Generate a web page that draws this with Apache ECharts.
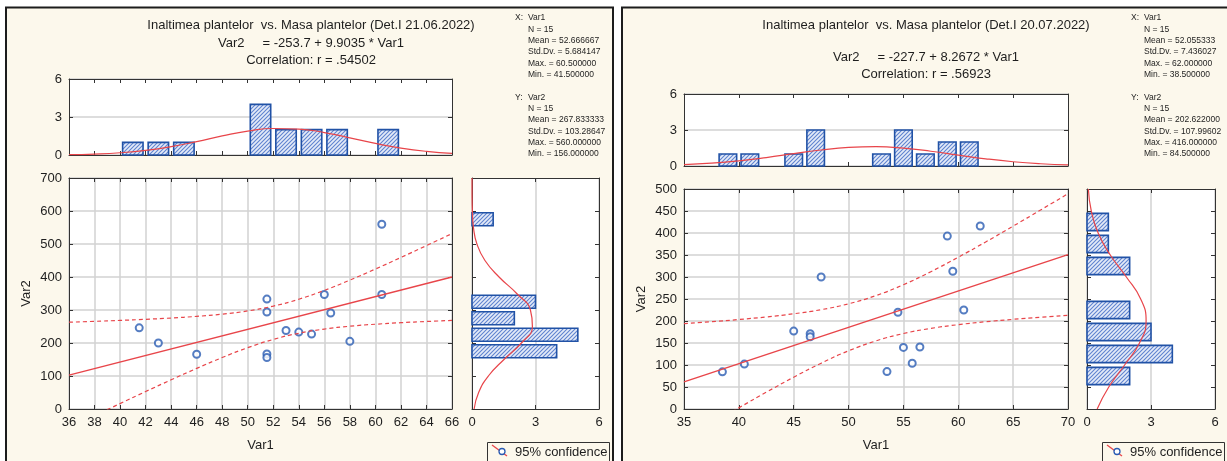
<!DOCTYPE html>
<html><head><meta charset="utf-8">
<script src="https://cdn.jsdelivr.net/npm/echarts@6/dist/echarts.min.js"></script>
<style>html,body{margin:0;padding:0;background:#fff;}#c{width:1227px;height:461px;}</style>
</head><body><div id="c"></div>
<script>
// ===== Panel A (Det.I 21.06.2022) =====
const titleA = ['Inaltimea plantelor  vs. Masa plantelor (Det.I 21.06.2022)', 'Var2     = -253.7 + 9.9035 * Var1', 'Correlation: r = .54502'];
const statsXA = ['N = 15', 'Mean = 52.666667', 'Std.Dv. = 5.684147', 'Max. = 60.500000', 'Min. = 41.500000'];
const statsYA = ['N = 15', 'Mean = 267.833333', 'Std.Dv. = 103.28647', 'Max. = 560.000000', 'Min. = 156.000000'];
const pointsA = [[41.5,246],[43,200],[46,166],[51.5,333],[51.5,294],[51.5,167],[51.5,156],[53,238],[54,233],[55,227],[56,347],[56.5,291],[58,205],[60.5,560],[60.5,347]];
const regA = [[36,102.8],[66,399.9]];
const bandXA = [36,38,40,42,44,46,48,50,52,54,56,58,60,62,64,66];
const bandUpA = [263.0,265.6,268.5,271.8,275.7,280.7,287.4,297.2,311.8,332.7,359.5,390.6,424.1,459.2,495.1,531.5];
const bandLoA = [-57.3,-20.3,16.4,52.8,88.4,123.0,155.9,185.8,210.8,229.5,242.3,250.8,256.9,261.5,265.2,268.3];
const histXCentersA = [41,43,45,51,53,55,57,61];
const histXCountsA = [1,1,1,4,2,2,2,2];
const histYCentersA = [175,225,275,325,575];
const histYCountsA = [4,5,2,3,1];
const normXvalA = [36,38,40,42,44,46,48,50,52,54,56,58,60,62,64,66];
const normXcntA = [0.029,0.075,0.176,0.362,0.658,1.058,1.503,1.886,2.091,2.048,1.773,1.356,0.916,0.547,0.289,0.135];
const normYvalA = [0,50,100,150,200,250,300,350,400,450,500,550,600,650,700];
const normYcntA = [0.100,0.313,0.774,1.511,2.335,2.854,2.760,2.111,1.278,0.612,0.232,0.069,0.017,0.003,0.001];
const xTicksA = {min:36, max:66, interval:2};
const yTicksA = {min:0, max:700, interval:100};

// ===== Panel B (Det.I 20.07.2022) =====
const titleB = ['Inaltimea plantelor  vs. Masa plantelor (Det.I 20.07.2022)', 'Var2     = -227.7 + 8.2672 * Var1', 'Correlation: r = .56923'];
const statsXB = ['N = 15', 'Mean = 52.055333', 'Std.Dv. = 7.436027', 'Max. = 62.000000', 'Min. = 38.500000'];
const statsYB = ['N = 15', 'Mean = 202.622000', 'Std.Dv. = 107.99602', 'Max. = 416.000000', 'Min. = 84.500000'];
const pointsB = [[38.5,84.5],[40.5,102],[45,177],[46.5,171],[46.5,164],[47.5,300],[53.5,85],[54.5,220],[55,140],[55.8,104],[56.5,141],[59,393],[59.5,313],[60.5,225],[62,416]];
const regB = [[35,61.7],[70,351.0]];
const bandXB = [35,37.5,40,42.5,45,47.5,50,52.5,55,57.5,60,62.5,65,67.5,70];
const bandUpB = [194.0,198.4,203.4,209.2,216.4,225.8,239.1,257.8,282.5,312.1,345.0,379.7,415.6,452.2,489.3];
const bandLoB = [-70.7,-33.8,2.6,38.1,72.3,104.1,132.2,154.8,171.5,183.2,191.7,198.3,203.8,208.5,212.7];
const histXCentersB = [39,41,45,47,53,55,57,59,61];
const histXCountsB = [1,1,1,3,1,3,1,2,2];
const histYCentersB = [75,125,175,225,325,375,425];
const histYCountsB = [2,4,3,2,2,1,1];
const normXvalB = [35,37.5,40,42.5,45,47.5,50,52.5,55,57.5,60,62.5,65,67.5,70];
const normXcntB = [0.116,0.237,0.433,0.705,1.026,1.334,1.549,1.607,1.488,1.231,0.910,0.600,0.354,0.186,0.088];
const normYvalB = [0,50,100,150,200,250,300,350,400,450,500];
const normYcntB = [0.477,1.021,1.764,2.460,2.770,2.516,1.845,1.092,0.522,0.201,0.063];
const xTicksB = {min:35, max:70, interval:5};
const yTicksB = {min:0, max:500, interval:50};

const countTicks = {min:0, max:6, interval:3};
const legendText = '95% confidence';

// ===== styling =====
const FONT = '"Liberation Sans", Arial, sans-serif';
const CREAM = '#fcf8ec';
const RED = '#e8454a';
const BLUE = '#2a5cb3';
const BARBLUE = '#2152a6';
const TXT = '#1e1e1e';

function makeHatch(){
  const c = document.createElement('canvas'); c.width = 4; c.height = 4;
  const g = c.getContext('2d');
  g.fillStyle = '#e4ebf8'; g.fillRect(0,0,4,4);
  g.strokeStyle = '#5f83cf'; g.lineWidth = 1.1;
  g.beginPath();
  g.moveTo(0,4); g.lineTo(4,0);
  g.moveTo(-2,2); g.lineTo(2,-2);
  g.moveTo(2,6); g.lineTo(6,2);
  g.stroke();
  return c;
}
const hatch = {image: makeHatch(), repeat: 'repeat'};

const grids = [], xAxes = [], yAxes = [], series = [], graphics = [];
const lab = {fontFamily: FONT, fontSize: 13, color: TXT};
const tick = {show:true, inside:true, length:4, lineStyle:{color:'#333', width:1}};
const aline = {show:true, onZero:false, lineStyle:{color:'#333', width:1}};
const split = {show:true, lineStyle:{color:'#d2d2d2', width:1.5}};

function addGrid(rect, xc, yc){
  const gi = grids.length;
  grids.push({left:rect[0], top:rect[1], width:rect[2], height:rect[3], show:true, backgroundColor:'#fff', borderWidth:0, containLabel:false});
  const xi = xAxes.length, yi = yAxes.length;
  xAxes.push({type:'value', gridIndex:gi, position:'bottom', min:xc.min, max:xc.max, interval:xc.interval,
    axisLine:aline, axisTick:tick, axisLabel:{show:!!xc.labels, margin:7, ...lab},
    splitLine: xc.split ? split : {show:false},
    name: xc.name || '', nameLocation:'middle', nameGap: 30, nameTextStyle:{...lab}});
  xAxes.push({type:'value', gridIndex:gi, position:'top', min:xc.min, max:xc.max, interval:xc.interval,
    axisLine:aline, axisTick:tick, axisLabel:{show:false}, splitLine:{show:false}});
  yAxes.push({type:'value', gridIndex:gi, position:'left', min:yc.min, max:yc.max, interval:yc.interval,
    axisLine:aline, axisTick:tick, axisLabel:{show:!!yc.labels, margin:7, ...lab},
    splitLine: yc.split ? split : {show:false},
    name: yc.name || '', nameLocation:'middle', nameGap: 36, nameTextStyle:{...lab}});
  yAxes.push({type:'value', gridIndex:gi, position:'right', min:yc.min, max:yc.max, interval:yc.interval,
    axisLine:aline, axisTick:tick, axisLabel:{show:false}, splitLine:{show:false}});
  return {x:xi, y:yi};
}

function vBars(binW, frac){
  return function(params, api){
    const c = api.value(0), n = api.value(1);
    const p0 = api.coord([c - binW*frac/2, n]);
    const p1 = api.coord([c + binW*frac/2, 0]);
    return {type:'rect', shape:{x:p0[0], y:p0[1], width:p1[0]-p0[0], height:p1[1]-p0[1]},
      style:{fill:hatch, stroke:BARBLUE, lineWidth:1.6}};
  };
}
function hBars(binW, frac){
  return function(params, api){
    const c = api.value(0), n = api.value(1);
    const p0 = api.coord([0, c + binW*frac/2]);
    const p1 = api.coord([n, c - binW*frac/2]);
    return {type:'rect', shape:{x:p0[0], y:p0[1], width:p1[0]-p0[0], height:p1[1]-p0[1]},
      style:{fill:hatch, stroke:BARBLUE, lineWidth:1.6}};
  };
}
const zip = (a,b) => a.map((v,i)=>[v,b[i]]);

function buildPanel(P){
  graphics.push({type:'rect', shape:{x:P.frame[0], y:P.frame[1], width:P.frame[2], height:P.frame[3]},
    style:{fill:CREAM, stroke:'#1c1c1c', lineWidth:2}, z:-10});
  P.title.forEach((t,i)=>graphics.push({type:'text', x:P.titleX, y:P.titleY[i],
    style:{text:t, font:'13px '+FONT, fill:TXT, textAlign:'center', textVerticalAlign:'middle'}}));
  const st = (txt, x, y) => graphics.push({type:'text', x:x, y:y, style:{text:txt, font:'8.5px '+FONT, fill:TXT, textAlign:'left', textVerticalAlign:'middle'}});
  st('X:', P.statX0, 17.5); st('Var1', P.statX1, 17.5);
  P.statsX.forEach((t,i)=>st(t, P.statX1, 29.5 + i*11.3));
  st('Y:', P.statX0, 97.5); st('Var2', P.statX1, 97.5);
  P.statsY.forEach((t,i)=>st(t, P.statX1, 108.8 + i*11.3));
  const L = P.legend;
  graphics.push({type:'rect', shape:{x:L[0]+0.5, y:442.5, width:122, height:26}, style:{fill:'none', stroke:'#333', lineWidth:1}});
  graphics.push({type:'line', shape:{x1:L[0]+5, y1:445, x2:L[0]+20, y2:456}, style:{stroke:RED, lineWidth:1.3}});
  graphics.push({type:'circle', shape:{cx:L[0]+15, cy:451.5, r:3}, style:{fill:'#fff', stroke:BLUE, lineWidth:1.3}});
  graphics.push({type:'text', x:L[0]+28, y:452, style:{text:legendText, font:'13px '+FONT, fill:TXT, textVerticalAlign:'middle'}});

  const sc = addGrid(P.scatter, {...P.xT, labels:true, split:true, name:'Var1'}, {...P.yT, labels:true, split:true, name:'Var2'});
  const th = addGrid(P.top, {...P.xT}, {...countTicks, labels:true, split:true});
  const rh = addGrid(P.right, {...countTicks, labels:true, split:true}, {...P.yT});

  const lineBase = {type:'line', showSymbol:false, symbol:'none', clip:true, animation:false, silent:true};
  series.push({...lineBase, xAxisIndex:sc.x, yAxisIndex:sc.y, data:zip(P.bandX, P.bandUp), smooth:true,
    lineStyle:{color:RED, width:1.2, type:[4,3]}});
  series.push({...lineBase, xAxisIndex:sc.x, yAxisIndex:sc.y, data:zip(P.bandX, P.bandLo), smooth:true,
    lineStyle:{color:RED, width:1.2, type:[4,3]}});
  series.push({...lineBase, xAxisIndex:sc.x, yAxisIndex:sc.y, data:P.reg, lineStyle:{color:RED, width:1.4}});
  series.push({type:'scatter', xAxisIndex:sc.x, yAxisIndex:sc.y, data:P.points, symbol:'emptyCircle', symbolSize:7,
    itemStyle:{color:BLUE, borderWidth:1.4}, animation:false, silent:true});

  series.push({type:'custom', xAxisIndex:th.x, yAxisIndex:th.y, renderItem:vBars(2, 0.8),
    data:zip(P.hxC, P.hxN), animation:false, silent:true});
  series.push({...lineBase, xAxisIndex:th.x, yAxisIndex:th.y, data:zip(P.nxV, P.nxC), smooth:true,
    lineStyle:{color:RED, width:1.2}, z:3});

  series.push({type:'custom', xAxisIndex:rh.x, yAxisIndex:rh.y, renderItem:hBars(50, 0.78),
    data:zip(P.hyC, P.hyN), animation:false, silent:true});
  series.push({...lineBase, xAxisIndex:rh.x, yAxisIndex:rh.y, data:zip(P.nyC, P.nyV), smooth:true,
    lineStyle:{color:RED, width:1.2}, z:3});
}

buildPanel({frame:[6,7.5,607,470], title:titleA, titleX:311, titleY:[25,43.3,60],
  statsX:statsXA, statsY:statsYA, statX0:515, statX1:528, legend:[487],
  scatter:[69,178,383,231], top:[69,79,383,76], right:[472,178,127,231],
  xT:xTicksA, yT:yTicksA, bandX:bandXA, bandUp:bandUpA, bandLo:bandLoA, reg:regA, points:pointsA,
  hxC:histXCentersA, hxN:histXCountsA, nxV:normXvalA, nxC:normXcntA,
  hyC:histYCentersA, hyN:histYCountsA, nyV:normYvalA, nyC:normYcntA});

buildPanel({frame:[622,7.5,640,470], title:titleB, titleX:926, titleY:[25,57.3,74.7],
  statsX:statsXB, statsY:statsYB, statX0:1131, statX1:1144, legend:[1102],
  scatter:[684,189,384,220], top:[684,94,384,72], right:[1087,189,128,220],
  xT:xTicksB, yT:yTicksB, bandX:bandXB, bandUp:bandUpB, bandLo:bandLoB, reg:regB, points:pointsB,
  hxC:histXCentersB, hxN:histXCountsB, nxV:normXvalB, nxC:normXcntB,
  hyC:histYCentersB, hyN:histYCountsB, nyV:normYvalB, nyC:normYcntB});

const chart = echarts.init(document.getElementById('c'), null, {renderer:'canvas', width:1227, height:461});
chart.setOption({
  backgroundColor:'#fff', animation:false,
  grid:grids, xAxis:xAxes, yAxis:yAxes, series:series,
  graphic:{elements:graphics}
});
</script></body></html>
